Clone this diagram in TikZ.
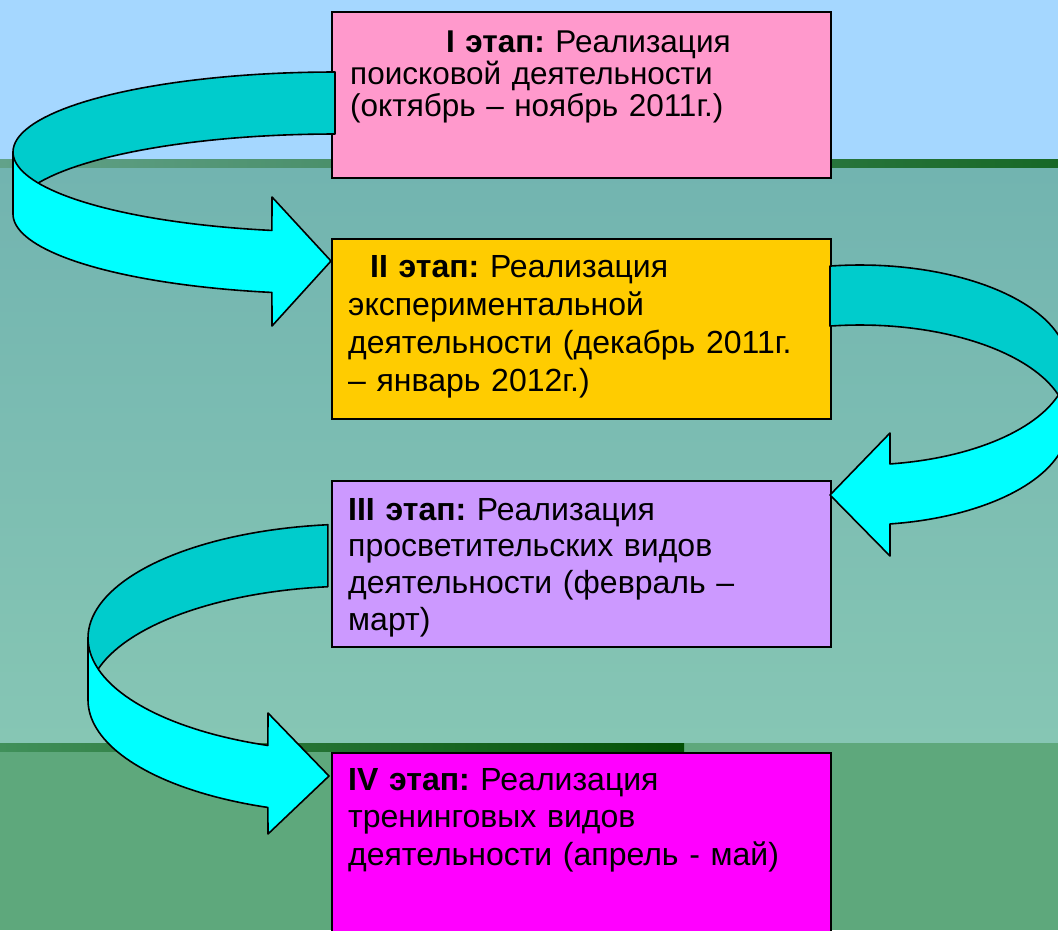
\documentclass[tikz,border=0pt]{standalone}
\usepackage{fontspec}
\setmainfont{Liberation Sans}
\frenchspacing
\definecolor{sky}{HTML}{A5D7FF}
\definecolor{midtop}{HTML}{72B4B0}
\definecolor{midbot}{HTML}{86C6B4}
\definecolor{lowgreen}{HTML}{5EA87C}
\definecolor{bandAl}{HTML}{62A28A}
\definecolor{bandAr}{HTML}{176826}
\definecolor{bandBl}{HTML}{40905A}
\definecolor{bandBr}{HTML}{035005}
\definecolor{dteal}{HTML}{00CCCC}
\definecolor{bcyan}{HTML}{00FFFF}
\definecolor{pinkbox}{HTML}{FF99CC}
\definecolor{goldbox}{HTML}{FFCC00}
\definecolor{lilacbox}{HTML}{CC99FF}
\definecolor{magbox}{HTML}{FF00FF}
\tikzset{
  stagebox/.style={draw=black, line width=1.8pt, rectangle, inner sep=0pt, anchor=north west, minimum width=499pt},
  stagetext/.style={inner sep=0pt, anchor=base west, text width=478pt, align=left},
  ribbon/.style={draw=black, line width=1.6pt, line join=round},
}
\begin{document}
\begin{tikzpicture}[x=1pt,y=-1pt]
\clip (0,0) rectangle (1058,930);
% background
\fill[sky] (0,0) rectangle (1058,160);
\shade[left color=bandAl, right color=bandAr] (0,159) rectangle (1058,168);
\shade[top color=midtop, bottom color=midbot] (0,168) rectangle (1058,743);
\fill[lowgreen] (0,743) rectangle (1058,930);
\shade[left color=bandBl, right color=bandBr] (0,743) rectangle (684,751);
% boxes
\node[stagebox, fill=pinkbox, minimum height=166pt] (b1) at (331,11) {};
\node[stagebox, fill=goldbox, minimum height=180pt] (b2) at (331,238) {};
\node[stagebox, fill=lilacbox, minimum height=166pt] (b3) at (331,480) {};
\node[stagebox, fill=magbox, minimum height=200pt] (b4) at (331,752) {};
% texts
\node[stagetext, font=\fontsize{31.5}{32.3}\selectfont] (t1) at (350,52)
  {\hspace*{96pt}\textbf{I этап:} Реализация\\поисковой деятельности\\(октябрь – ноябрь 2011г.)};
\node[stagetext, font=\fontsize{32}{38.3}\selectfont] (t2) at (348,277)
  {\hspace*{22pt}\textbf{II этап:} Реализация\\экспериментальной\\деятельности (декабрь 2011г.\\– январь 2012г.)};
\node[stagetext, font=\fontsize{32}{36.7}\selectfont] (t3) at (348,520)
  {\textbf{III этап:} Реализация\\просветительских видов\\деятельности (февраль –\\март)};
\node[stagetext, font=\fontsize{32}{37.5}\selectfont] (t4) at (348,790)
  {\textbf{IV этап:} Реализация\\тренинговых видов\\деятельности (апрель - май)};
% arrow I -> II
\filldraw[ribbon, fill=dteal]
  plot[domain=90:180, samples=40, variable=\t] ({335+322*cos(\t)},{152-80*sin(\t)})
  -- plot[domain=180:90, samples=40, variable=\t] ({335+322*cos(\t)},{214-80*sin(\t)}) -- cycle;
\filldraw[ribbon, fill=bcyan]
  plot[domain=180:101.3, samples=40, variable=\t] ({335+322*cos(\t)},{152+80*sin(\t)})
  -- (272,197) -- (331,261) -- (272,326)
  -- plot[domain=101.3:180, samples=40, variable=\t] ({335+322*cos(\t)},{214+80*sin(\t)}) -- cycle;
% arrow II -> III
\filldraw[ribbon, fill=dteal]
  plot[domain=98.3:0, samples=40, variable=\t] ({860+208*cos(\t)},{365-100*sin(\t)})
  -- plot[domain=0:98.3, samples=40, variable=\t] ({860+208*cos(\t)},{425-100*sin(\t)}) -- cycle;
\filldraw[ribbon, fill=bcyan]
  plot[domain=0:81.7, samples=40, variable=\t] ({860+208*cos(\t)},{365+100*sin(\t)})
  -- (890,433) -- (830,495) -- (890,556)
  -- plot[domain=81.7:0, samples=40, variable=\t] ({860+208*cos(\t)},{425+100*sin(\t)}) -- cycle;
% arrow III -> IV
\filldraw[ribbon, fill=dteal]
  plot[domain=96.4:180, samples=40, variable=\t] ({358+270*cos(\t)},{638-114*sin(\t)})
  -- plot[domain=180:96.4, samples=40, variable=\t] ({358+270*cos(\t)},{700-114*sin(\t)}) -- cycle;
\filldraw[ribbon, fill=bcyan]
  plot[domain=180:109.5, samples=40, variable=\t] ({358+270*cos(\t)},{638+114*sin(\t)})
  -- (268,713) -- (329,776) -- (268,834)
  -- plot[domain=109.5:180, samples=40, variable=\t] ({358+270*cos(\t)},{700+114*sin(\t)}) -- cycle;
\end{tikzpicture}
\end{document}
